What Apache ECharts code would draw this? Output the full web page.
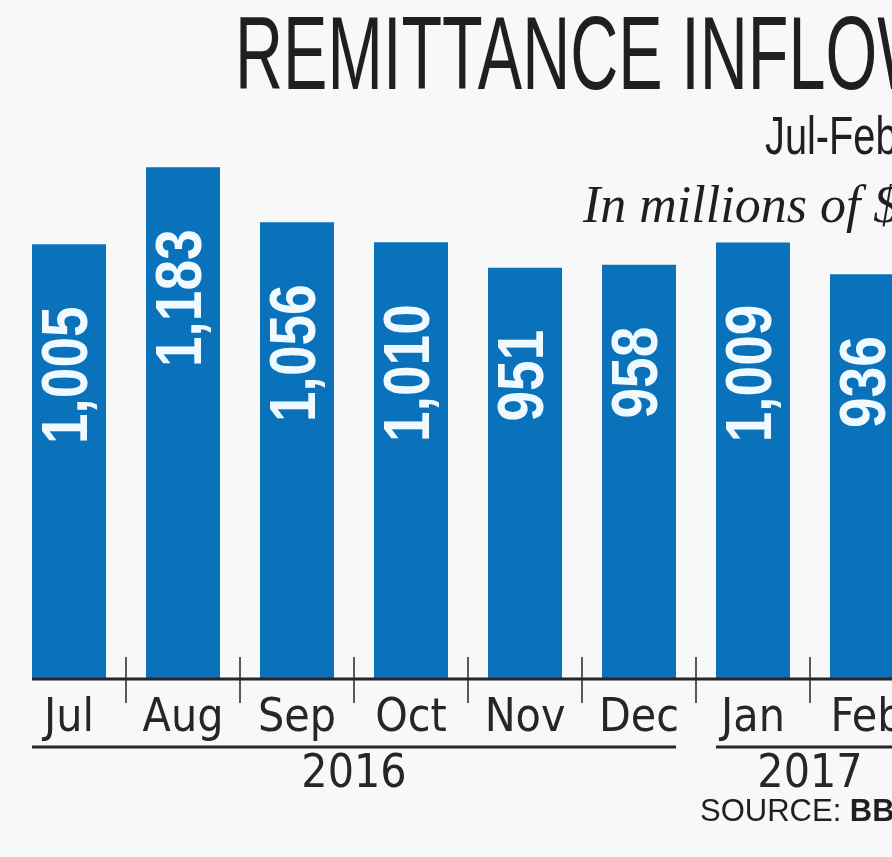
<!DOCTYPE html>
<html><head><meta charset="utf-8">
<script src="https://cdn.jsdelivr.net/npm/echarts@6/dist/echarts.min.js"></script>
<style>html,body{margin:0;padding:0;background:#f8f8f8;overflow:hidden;width:892px;height:857px}#c{width:930px;height:857px}</style>
</head><body><div id="c"></div>
<script>
// ---- data ----
const months = ['Jul','Aug','Sep','Oct','Nov','Dec','Jan','Feb'];
const values = [1005,1183,1056,1010,951,958,1009,936];
const yearLabels = ['2016','2017'];
const yearFirst = [0,6];
const yearLast = [5,7];
const titleText = 'REMITTANCE INFLOW';
const subtitleText = 'Jul-Feb';
const unitText = 'In millions of $';
const sourceLabel = 'SOURCE: ';
const sourceName = 'BB';

// ---- style ----
const NARROW = "'Liberation Sans Narrow','DejaVu Sans Condensed',sans-serif";
const INK = '#262626';
const BAR = '#0a71bb';
const BAR_W = 74;

const chart = echarts.init(document.getElementById('c'));
const tickFilter = (i) => i > 0;
const option = {
  backgroundColor: '#f8f8f8',
  animation: false,
  grid: {left: 12, right: 6, top: 160, bottom: 178, containLabel: false},
  xAxis: [
    {type:'category', data: months, position:'bottom',
     axisLine:{show:false},
     axisTick:{show:true, interval:tickFilter, inside:true, length:22, lineStyle:{color:INK, width:1.5}},
     axisLabel:{show:false}},
    {type:'category', data: months, position:'bottom',
     axisLine:{show:false},
     axisTick:{show:true, interval:tickFilter, length:24, lineStyle:{color:INK, width:1.5}},
     axisLabel:{interval:0, fontFamily:NARROW, fontSize:46, color:INK, margin:17}}
  ],
  yAxis: {type:'value', min:0, max:1200, show:false},
  series: [{
    type:'bar', xAxisIndex:0, data: values, barWidth: BAR_W,
    itemStyle:{color:BAR}
  }, {
    type:'custom', xAxisIndex:0, z:5, silent:true,
    data: values.map((v, i) => [i, v]),
    renderItem: (params, api) => {
      const p = api.coord([api.value(0), api.value(1)]);
      return {type:'text', x:p[0], y:p[1] + 62, rotation:Math.PI/2, scaleX:0.86,
        style:{text: api.value(1).toLocaleString('en-US'), font:'bold 64px "Liberation Sans"',
          fill:'#eefaff', align:'right', verticalAlign:'middle', textAlign:'right', textVerticalAlign:'middle'}};
    }
  }]
};
chart.setOption(option);

const axisY = chart.convertToPixel({yAxisIndex:0}, 0);
const firstX = chart.convertToPixel({xAxisIndex:0}, months[0]) - BAR_W/2;
const g = [
  {type:'line', shape:{x1:firstX, y1:axisY, x2:930, y2:axisY}, style:{stroke:INK, lineWidth:3}, z:10},
  {type:'text', x:235, y:60, scaleX:0.64,
   style:{text:titleText, font:'104px "Liberation Sans"', fill:'#1f1f1f', textAlign:'left', textVerticalAlign:'middle', align:'left', verticalAlign:'middle'}},
  {type:'text', x:765, y:139, scaleX:0.75,
   style:{text:subtitleText, font:'53px "Liberation Sans"', fill:'#1f1f1f', textAlign:'left', textVerticalAlign:'middle', align:'left', verticalAlign:'middle'}},
  {type:'text', x:583, y:208,
   style:{text:unitText, font:'italic 52px "Liberation Serif"', fill:'#1f1f1f', textAlign:'left', textVerticalAlign:'middle', align:'left', verticalAlign:'middle'}},
  {type:'text', x:700, y:812,
   style:{text:'{a|' + sourceLabel + '}{b|' + sourceName + '}', rich:{
     a:{fontFamily:'Liberation Sans', fontSize:31, fill:'#1f1f1f', color:'#1f1f1f'},
     b:{fontFamily:'Liberation Sans', fontWeight:'bold', fontSize:31, fill:'#1f1f1f', color:'#1f1f1f'}},
     textAlign:'left', textVerticalAlign:'middle', align:'left', verticalAlign:'middle'}}
];
yearLabels.forEach((yl, i) => {
  const c0 = chart.convertToPixel({xAxisIndex:0}, months[yearFirst[i]]);
  const c1 = chart.convertToPixel({xAxisIndex:0}, months[yearLast[i]]);
  const x0 = c0 - BAR_W/2, x1 = c1 + BAR_W/2;
  g.push({type:'line', shape:{x1:x0, y1:747, x2:x1, y2:747}, style:{stroke:INK, lineWidth:3}});
  g.push({type:'text', x:(c0 + c1)/2, y:775,
    style:{text:yl, font:'46px ' + NARROW, fill:INK, textAlign:'center', textVerticalAlign:'middle', align:'center', verticalAlign:'middle'}});
});
chart.setOption({graphic: g});
</script></body></html>
